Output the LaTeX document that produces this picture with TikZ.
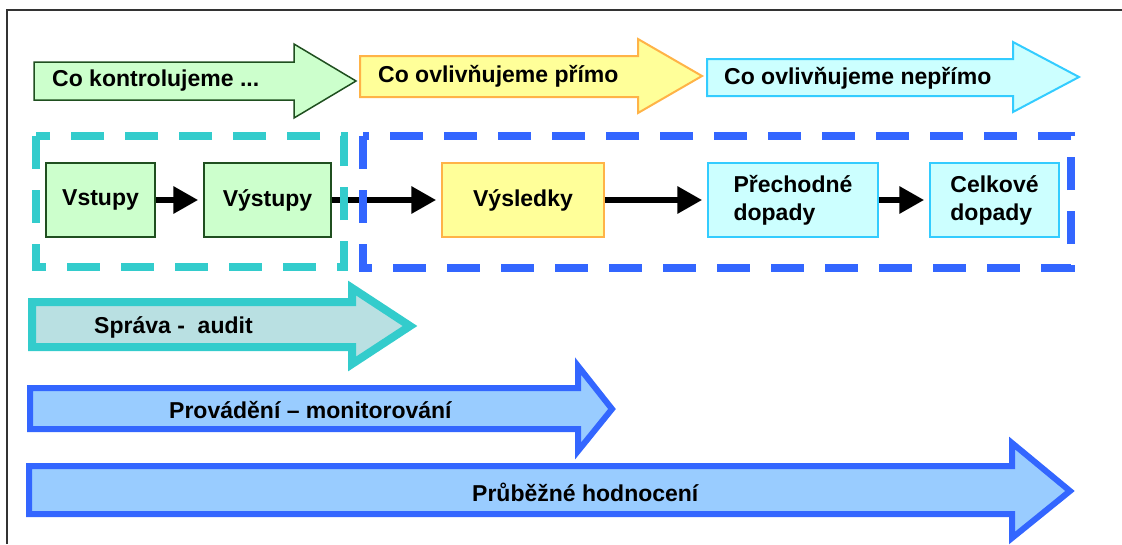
\documentclass[tikz,border=0pt]{standalone}
\usepackage{fontspec}
\setmainfont{Liberation Sans}
\usetikzlibrary{arrows.meta}

\definecolor{zelena}{HTML}{CCFFCC}
\definecolor{tmzelena}{HTML}{1F4F1F}
\definecolor{zluta}{HTML}{FFFF99}
\definecolor{oranz}{HTML}{FFB347}
\definecolor{svmodra}{HTML}{CCFFFF}
\definecolor{azur}{HTML}{33CCFF}
\definecolor{tyrkys}{HTML}{33CCCC}
\definecolor{sedomodra}{HTML}{B9E0E2}
\definecolor{modra}{HTML}{3366FF}
\definecolor{nebe}{HTML}{99CCFF}

\begin{document}
\begin{tikzpicture}[
            x=1pt,    % 1 pixel = 1 pt
            y=-1pt,   % y roste dolu
            font=\bfseries\fontsize{23}{28}\selectfont,
            greenbox/.style={draw=tmzelena, fill=zelena, line width=1.5pt, minimum height=74pt, inner sep=0pt},
            yellowbox/.style={draw=oranz, fill=zluta, line width=1.5pt, minimum height=74pt, inner sep=0pt},
            cyanbox/.style={draw=azur, fill=svmodra, line width=1.5pt, minimum height=74pt, inner sep=0pt, align=left},
            flow/.style={line width=6.5pt, -{Triangle[length=25pt,width=26pt]}, shorten >=5pt},
            tealdash/.style={tyrkys, line width=7.5pt, dash pattern=on 33pt off 21pt},
            bluedash/.style={modra, line width=7.5pt, dash pattern=on 33pt off 21pt},
            lbl/.style={anchor=west, inner sep=0pt}
        ]
            \useasboundingbox (0,0) rectangle (1122,544);

            % ramecek
            \draw[line width=2pt, black!80] (7,544) -- (7,10) -- (1122,10);

            % horni sipky
            \filldraw[fill=zelena, draw=tmzelena, line width=1.5pt]
                (34,62) -- (294,62) -- (294,44) -- (356,81) -- (294,118) -- (294,100) -- (34,100) -- cycle;
            \filldraw[fill=zluta, draw=oranz, line width=2pt]
                (360,56) -- (638,56) -- (638,39) -- (702,76) -- (638,113) -- (638,97) -- (360,97) -- cycle;
            \filldraw[fill=svmodra, draw=azur, line width=2pt]
                (707,59) -- (1013,59) -- (1013,42) -- (1079,77) -- (1013,112) -- (1013,96) -- (707,96) -- cycle;
            \node[lbl] (kontrol) at (52,81) {Co kontrolujeme ...};
            \node[lbl] (primo) at (378,76) {Co ovlivňujeme přímo};
            \node[lbl] (neprimo) at (724,78) {Co ovlivňujeme nepřímo};

            % retezec
            \node[greenbox, minimum width=109pt] (vstupy) at (100.5,200) {Vstupy};
            \node[greenbox, minimum width=127pt] (vystupy) at (267.5,200) {Výstupy};
            \node[yellowbox, minimum width=162pt] (vysledky) at (523,200) {Výsledky};
            \node[cyanbox, minimum width=170pt] (prechodne) at (793,200) {Přechodné\\dopady};
            \node[cyanbox, minimum width=129pt] (celkove) at (994.5,200) {Celkové\\dopady};

            \draw[flow] (vstupy) -- (vystupy);
            \draw[flow] (vystupy) -- (vysledky);
            \draw[flow] (vysledky) -- (prechodne);
            \draw[flow] (prechodne) -- (celkove);

            % carkovane oblasti
            \draw[tealdash] (36,136) rectangle (344,267);
            \draw[bluedash] (363,136) rectangle (1071,268);

            % dolni sipky
            \filldraw[fill=sedomodra, draw=tyrkys, line width=8pt]
                (32,302) -- (352,302) -- (352,288) -- (410,326) -- (352,364) -- (352,347) -- (32,347) -- cycle;
            \filldraw[fill=nebe, draw=modra, line width=6pt]
                (30,388) -- (578,388) -- (578,366) -- (612,409) -- (578,451) -- (578,429) -- (30,429) -- cycle;
            \filldraw[fill=nebe, draw=modra, line width=6pt]
                (29,466) -- (1012,466) -- (1012,443) -- (1070,491) -- (1012,538) -- (1012,514) -- (29,514) -- cycle;
            \node[lbl] (sprava) at (94,327) {Správa - \ audit};
            \node[lbl] (provadeni) at (169,410) {Provádění – monitorování};
            \node[lbl] (hodnoceni) at (472,492) {Průběžné hodnocení};
\end{tikzpicture}
\end{document}
